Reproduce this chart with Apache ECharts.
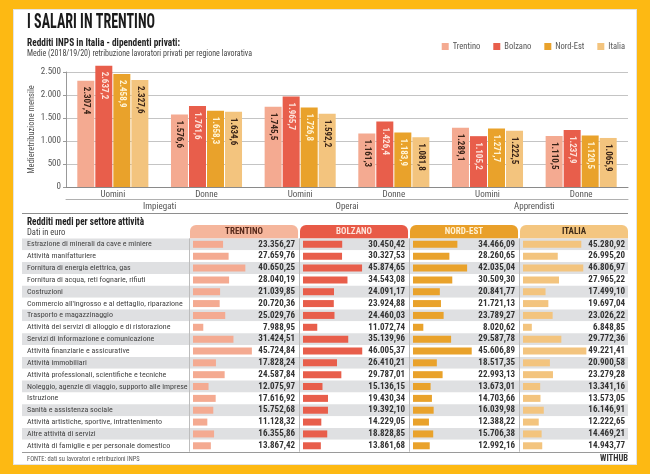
<!DOCTYPE html>
<html><head><meta charset="utf-8">
<script src="https://cdn.jsdelivr.net/npm/echarts@6/dist/echarts.min.js"></script>
<style>
html,body{margin:0;padding:0;background:#FDB913;width:650px;height:474px;overflow:hidden;}
#panel{position:absolute;left:13px;top:9px;width:622px;height:454px;background:#fff;border:1px solid #e3e3e3;}
#c{position:absolute;left:0;top:0;width:650px;height:474px;}
</style>
</head><body><div id="panel"></div><div id="c"></div>
<script>
// ---------- DATA ----------
const regions = ['Trentino', 'Bolzano', 'Nord-Est', 'Italia'];
const headerLabels = ['TRENTINO', 'BOLZANO', 'NORD-EST', 'ITALIA'];
const groups = ['Impiegati', 'Operai', 'Apprendisti'];
const genders = ['Uomini', 'Donne', 'Uomini', 'Donne', 'Uomini', 'Donne'];

const salTrentino = [2307.4, 1576.6, 1745.5, 1161.3, 1289.1, 1110.5];
const salBolzano  = [2637.2, 1761.6, 1965.7, 1426.4, 1105.2, 1237.9];
const salNordEst  = [2458.9, 1658.3, 1726.8, 1183.9, 1271.7, 1120.5];
const salItalia   = [2327.6, 1634.6, 1592.2, 1081.8, 1222.5, 1065.9];

const sectors = [
  'Estrazione di minerali da cave e miniere',
  'Attività manifatturiere',
  'Fornitura di energia elettrica, gas',
  'Fornitura di acqua, reti fognarie, rifiuti',
  'Costruzioni',
  "Commercio all'ingrosso e al dettaglio, riparazione",
  'Trasporto e magazzinaggio',
  'Attività dei servizi di alloggio e di ristorazione',
  'Servizi di informazione e comunicazione',
  'Attività finanziarie e assicurative',
  'Attività immobiliari',
  'Attività professionali, scientifiche e tecniche',
  'Noleggio, agenzie di viaggio, supporto alle imprese',
  'Istruzione',
  'Sanità e assistenza sociale',
  'Attività artistiche, sportive, intrattenimento',
  'Altre attività di servizi',
  'Attività di famiglie e per personale domestico'
];
const redTrentino = [23356.27, 27659.76, 40650.25, 28040.19, 21039.85, 20720.36, 25029.76, 7988.95, 31424.51, 45724.84, 17828.24, 24587.84, 12075.97, 17616.92, 15752.68, 11128.32, 16355.86, 13867.42];
const redBolzano  = [30450.42, 30327.53, 45874.65, 34543.08, 24091.17, 23924.88, 24460.03, 11072.74, 35139.96, 46005.37, 26410.21, 29787.01, 15136.15, 19430.34, 19392.10, 14229.05, 18828.85, 13861.68];
const redNordEst  = [34466.09, 28260.65, 42035.04, 30509.30, 20841.77, 21721.13, 23789.27, 8020.62, 29587.78, 45606.89, 18517.35, 22993.13, 13673.01, 14703.66, 16039.98, 12388.22, 15706.38, 12992.16];
const redItalia   = [45280.92, 26995.20, 46806.97, 27965.22, 17499.10, 19697.04, 23026.22, 6848.85, 29772.36, 49221.41, 20900.58, 23279.28, 13341.16, 13573.05, 16146.91, 12222.65, 14469.21, 14943.77];

// ---------- STYLE / LAYOUT ----------
const FONT = '"Roboto Condensed","DejaVu Sans Condensed",sans-serif';
const barColors = ['#F4AA91', '#E85E4B', '#E9A22B', '#F3C47E'];
const tabColors = ['#F5B69C', '#E85A47', '#E9A02A', '#F4C680'];
const tabText = ['#5a2b1c', '#fde3da', '#fff1d4', '#3d2a18'];
const barLabelColors = ['#3a2418', '#fde2da', '#fff4d6', '#3a2418'];

const salSeries = [salTrentino, salBolzano, salNordEst, salItalia];
const redSeries = [redTrentino, redBolzano, redNordEst, redItalia];

const tableTop = 238.4, rowH = 11.85;
const tableH = rowH * sectors.length;
const colLeft = [193, 303, 413, 523], colW = 103;
const tabLeft = [190, 300, 410, 520], tabW = 108;
const sepX = [189.5, 299.5, 409.5, 519.5];

function fmt(v, d) {
  const s = Number(v).toFixed(d);
  const parts = s.split('.');
  const i = parts[0].replace(/\B(?=(\d{3})+(?!\d))/g, '.');
  return parts[1] ? i + ',' + parts[1] : i;
}
const mctx = document.createElement('canvas').getContext('2d');
function fit(text, font, w) { mctx.font = font; return w / mctx.measureText(text).width; }

const grids = [{ left: 66, top: 72, width: 562, height: 115 },
               { left: 22, top: tableTop, width: 606, height: tableH }];
colLeft.forEach(l => grids.push({ left: l, top: tableTop, width: colW, height: tableH }));

const xAxes = [
  { type: 'category', gridIndex: 0, data: genders, position: 'bottom',
    axisLine: { lineStyle: { color: '#8a8a8a' } }, axisTick: { show: false },
    axisLabel: { fontFamily: FONT, fontSize: 9, color: '#555', margin: 3 } },
  { type: 'category', gridIndex: 0, data: groups, position: 'bottom', offset: 12,
    axisLine: { lineStyle: { color: '#b0b0b0' } }, axisTick: { show: false },
    axisLabel: { fontFamily: FONT, fontSize: 9, color: '#555', margin: 3 } },
  { type: 'value', gridIndex: 1, show: false, min: 0, max: 1 }
];
const yAxes = [
  { type: 'value', gridIndex: 0, min: 0, max: 2500, interval: 500,
    name: 'Medieretribuzione mensile', nameLocation: 'middle', nameGap: 30, nameMoveOverlap: false,
    nameTextStyle: { fontFamily: FONT, fontSize: 8.5, color: '#555' },
    axisLine: { show: true, lineStyle: { color: '#999' } },
    axisTick: { show: true, length: 3, lineStyle: { color: '#999' } },
    axisLabel: { fontFamily: FONT, fontSize: 9, color: '#555', margin: 5, formatter: v => fmt(v, 0) },
    splitLine: { lineStyle: { color: '#c4c4c4' } } },
  { type: 'category', gridIndex: 1, data: sectors, inverse: true,
    axisLine: { show: false }, axisTick: { show: false },
    axisLabel: { inside: true, fontFamily: FONT, fontSize: 8, color: '#444', margin: 5 },
    splitArea: { show: true, areaStyle: { color: ['#DFE0E2', '#FFFFFF'] } },
    splitLine: { show: false } }
];
colLeft.forEach((l, k) => {
  xAxes.push({ type: 'value', gridIndex: k + 2, min: 0, max: 80000, show: false });
  yAxes.push({ type: 'category', gridIndex: k + 2, data: sectors, inverse: true, position: 'right',
    axisLine: { show: false }, axisTick: { show: false }, splitLine: { show: false },
    axisLabel: { inside: true, margin: 1, fontFamily: FONT, fontSize: 9, fontWeight: 'bold', color: '#333',
      formatter: (v, idx) => fmt(redSeries[k][idx], 2) } });
});

const series = [];
regions.forEach((r, k) => {
  series.push({
    name: r, type: 'bar', xAxisIndex: 0, yAxisIndex: 0, data: salSeries[k],
    barWidth: 17, barGap: '6%', clip: false,
    itemStyle: { color: barColors[k] },
    label: { show: true, position: 'insideTop', rotate: -90, align: 'left', verticalAlign: 'middle',
      distance: 6, fontFamily: FONT, fontSize: 9, fontWeight: 'bold', color: barLabelColors[k],
      formatter: p => fmt(p.value, 1) }
  });
});
regions.forEach((r, k) => {
  series.push({
    name: r, type: 'bar', xAxisIndex: k + 3, yAxisIndex: k + 2, data: redSeries[k],
    barWidth: 7, itemStyle: { color: barColors[k] }, silent: true
  });
});

const T1 = 'I SALARI IN TRENTINO', F1 = 'bold 21px ' + FONT;
const T2 = 'Redditi INPS in Italia - dipendenti privati:', F2 = 'bold 10px ' + FONT;
const T3 = 'Medie (2018/19/20) retribuzione lavoratori privati per regione lavorativa', F3 = '8.5px ' + FONT;
const T4 = 'Redditi medi per settore attività', F4 = 'bold 10px ' + FONT;
const graphic = [
  { type: 'text', x: 27, y: 22.5, scaleX: fit(T1, F1, 128), style: { text: T1, font: F1, fill: '#1b1b1b', verticalAlign: 'middle' } },
  { type: 'text', x: 27, y: 43, scaleX: fit(T2, F2, 153), style: { text: T2, font: F2, fill: '#222', verticalAlign: 'middle' } },
  { type: 'text', x: 27, y: 54, scaleX: fit(T3, F3, 225), style: { text: T3, font: F3, fill: '#444', verticalAlign: 'middle' } },
  { type: 'line', shape: { x1: 22, y1: 213.5, x2: 628, y2: 213.5 }, style: { stroke: '#8e8e8e', lineWidth: 1 } },
  { type: 'text', x: 27, y: 222.5, scaleX: fit(T4, F4, 117), style: { text: T4, font: F4, fill: '#222', verticalAlign: 'middle' } },
  { type: 'text', x: 27, y: 233, style: { text: 'Dati in euro', font: '8.5px ' + FONT, fill: '#444', verticalAlign: 'middle' } },
  { type: 'line', shape: { x1: 22, y1: 452.5, x2: 628, y2: 452.5 }, style: { stroke: '#9a9a9a', lineWidth: 1 } },
  { type: 'text', x: 27, y: 459, style: { text: 'FONTE: dati su lavoratori e retribuzioni INPS', font: '6.5px ' + FONT, fill: '#555', verticalAlign: 'middle' } },
  { type: 'text', x: 628, y: 459, style: { text: 'WITHUB', font: 'bold 8.5px ' + FONT, fill: '#333', align: 'right', verticalAlign: 'middle' } }
];
tabLeft.forEach((l, k) => {
  graphic.push({ type: 'rect', shape: { x: l, y: 225, width: tabW, height: 13.5, r: [6, 6, 0, 0] }, style: { fill: tabColors[k] } });
  graphic.push({ type: 'text', x: l + tabW / 2, y: 232, style: { text: headerLabels[k], font: 'bold 9px ' + FONT, fill: tabText[k], align: 'center', verticalAlign: 'middle' } });
});
sepX.forEach(x => {
  graphic.push({ type: 'line', z: 10, shape: { x1: x, y1: tableTop, x2: x, y2: tableTop + tableH }, style: { stroke: '#bdbdbd', lineWidth: 1 } });
});

const chart = echarts.init(document.getElementById('c'), null, { renderer: 'canvas' });
chart.setOption({
  animation: false,
  textStyle: { fontFamily: FONT },
  legend: { data: regions, right: 20, top: 37, icon: 'rect', itemWidth: 7, itemHeight: 7, itemGap: 13,
    selectedMode: false, textStyle: { fontFamily: FONT, fontSize: 8.5, color: '#555', padding: [0, 0, 0, -1] } },
  grid: grids, xAxis: xAxes, yAxis: yAxes, series: series, graphic: graphic
});
</script></body></html>
